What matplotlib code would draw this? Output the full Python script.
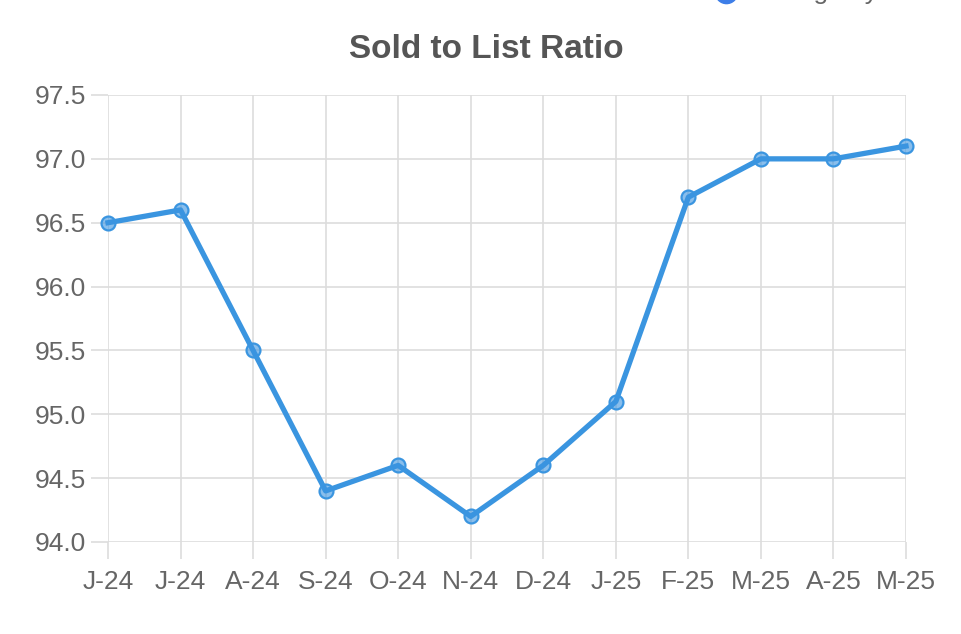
import matplotlib
matplotlib.use("Agg")
from matplotlib import pyplot as plt
from matplotlib.lines import Line2D

months = ["J-24", "J-24", "A-24", "S-24", "O-24", "N-24",
          "D-24", "J-25", "F-25", "M-25", "A-25", "M-25"]
ratio = [96.5, 96.6, 95.5, 94.4, 94.6, 94.2,
         94.6, 95.1, 96.7, 97.0, 97.0, 97.1]
y_ticks = [94.0, 94.5, 95.0, 95.5, 96.0, 96.5, 97.0, 97.5]

plt.rcParams["font.family"] = ["Liberation Sans", "DejaVu Sans"]

line_color = "#3a95e0"
text_color = "#666666"
grid_color = "#dddddd"

fig = plt.figure(figsize=(9.62, 6.34), dpi=100)
ax = fig.add_axes([108 / 962, 1 - 542 / 634, (906 - 108) / 962, (542 - 95) / 634])

x = list(range(len(months)))
ax.plot(x, ratio, color=line_color, lw=3.8, marker="o", markersize=10,
        markerfacecolor=(0.23, 0.58, 0.88, 0.6), markeredgecolor=line_color,
        markeredgewidth=1.6, zorder=3, clip_on=False)

ax.set_xlim(0, len(months) - 1)
ax.set_ylim(94.0, 97.5)
ax.set_xticks(x)
ax.set_xticklabels(months)
ax.set_yticks(y_ticks)
ax.set_yticklabels(["%.1f" % v for v in y_ticks])

for s in ax.spines.values():
    s.set_visible(False)
ax.grid(True, color=grid_color, lw=1.2)
ax.set_axisbelow(True)
ax.tick_params(axis="both", length=12, width=1.2, color=grid_color,
               labelsize=19, labelcolor=text_color)
ax.tick_params(axis="y", pad=4)
ax.tick_params(axis="x", pad=8)

fig.text(486 / 962, 1 - 50 / 634, "Sold to List Ratio", ha="center", va="center",
         fontsize=24, fontweight="bold", color="#555555")

# legend, cut off by the top edge
fig.add_artist(Line2D([726 / 962], [1 + 8 / 634], transform=fig.transFigure,
                      marker="o", markersize=16, color="#3d7ee8", lw=0))
fig.text(745 / 962, 1 + 1.5 / 634, "Average by Month", ha="left", va="baseline",
         fontsize=19, color=text_color)

fig.savefig("out.png", dpi=100)
